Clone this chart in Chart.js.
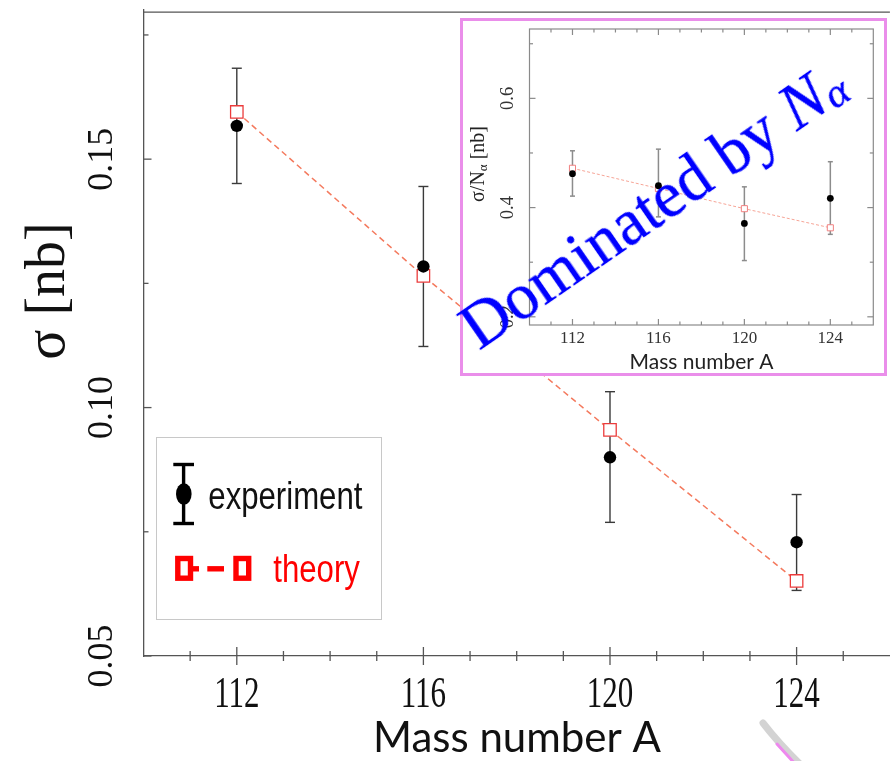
<!DOCTYPE html>
<html>
<head>
<meta charset="utf-8">
<script src="https://cdn.jsdelivr.net/npm/chart.js@4.4.0/dist/chart.umd.min.js"></script>
<style>
  html, body { margin: 0; padding: 0; background: #fff; }
  #wrap { position: relative; width: 890px; height: 761px; overflow: hidden; }
  #main { position: absolute; left: 0; top: 0; }
  #inset {
    position: absolute; left: 460px; top: 18px; width: 427px; height: 358px;
    box-sizing: border-box; border: 3px solid #ea8eea; background: #fff;
  }
  #insetChart { position: absolute; left: 0; top: 0; }
  #stamp {
    position: absolute; left: 479px; top: 297px;
    font-family: "Liberation Serif", "Times New Roman", serif;
    font-size: 65px; line-height: 1; color: #0000ff; white-space: nowrap;
    transform-origin: 0 54px; transform: rotate(-34.6deg);
    text-shadow: 0 0 0.8px #0000ff;
  }
  #stamp sub { font-size: 0.66em; vertical-align: -0.1em; }
</style>
</head>
<body>
<div id="wrap">
  <canvas id="main" width="900" height="761"></canvas>
  <div id="inset"><canvas id="insetChart" width="421" height="352"></canvas></div>
  <div id="stamp">Dominated by <i>N</i><sub><i>α</i></sub></div>
</div>
<script>
// mass numbers of the isotopes
const A_VALUES = [112, 116, 120, 124];

// main panel: cross section sigma [nb]
const SIGMA_EXP    = [0.1567, 0.1284, 0.0900, 0.0729];
const SIGMA_EXP_HI = [0.1683, 0.1445, 0.1032, 0.0825];
const SIGMA_EXP_LO = [0.1451, 0.1123, 0.0769, 0.0632];
const SIGMA_THEORY = [0.1595, 0.1265, 0.0955, 0.0651];

// inset: sigma / N_alpha [nb]
const RATIO_EXP    = [0.462, 0.440, 0.371, 0.417];
const RATIO_EXP_HI = [0.504, 0.507, 0.438, 0.484];
const RATIO_EXP_LO = [0.421, 0.383, 0.303, 0.351];
const RATIO_THEORY = [0.472, 0.435, 0.398, 0.363];

// axis ticks
const X_TICKS = [112, 116, 120, 124];
const Y_TICKS = [0.05, 0.10, 0.15];
const Y_TICK_LABELS = ['0.05', '0.10', '0.15'];
const Y_MINOR = [0.075, 0.125, 0.175];
const INSET_Y_TICKS = [0.2, 0.4, 0.6];
const INSET_Y_TICK_LABELS = ['0.2', '0.4', '0.6'];
const INSET_Y_MINOR = [0.3, 0.5, 0.7];

const SERIF = '"Liberation Serif", "Times New Roman", serif';
const SANS = 'Lato, "Open Sans", sans-serif';

const toPoints = (xs, ys) => xs.map((x, i) => ({ x, y: ys[i] }));

function vText(ctx, text, x, y, font, color) {
  ctx.save();
  ctx.translate(x, y);
  ctx.rotate(-Math.PI / 2);
  ctx.font = font;
  ctx.fillStyle = color;
  ctx.textAlign = 'center';
  ctx.textBaseline = 'alphabetic';
  ctx.fillText(text, 0, 0);
  ctx.restore();
}

function line(ctx, x1, y1, x2, y2) {
  ctx.beginPath();
  ctx.moveTo(x1, y1);
  ctx.lineTo(x2, y2);
  ctx.stroke();
}

function errorBars(chart, lo, hi, color, width, cap) {
  const { ctx, scales: { x, y } } = chart;
  ctx.save();
  ctx.strokeStyle = color;
  ctx.lineWidth = width;
  A_VALUES.forEach((a, i) => {
    const px = x.getPixelForValue(a);
    const top = y.getPixelForValue(hi[i]);
    const bot = y.getPixelForValue(lo[i]);
    line(ctx, px, top, px, bot);
    line(ctx, px - cap, top, px + cap, top);
    line(ctx, px - cap, bot, px + cap, bot);
  });
  ctx.restore();
}

const mainDecor = {
  id: 'mainDecor',
  beforeDatasetsDraw(chart) {
    errorBars(chart, SIGMA_EXP_LO, SIGMA_EXP_HI, '#3a3a3a', 1.4, 5);
  },
  afterDraw(chart) {
    const { ctx, chartArea: area, scales: { x, y } } = chart;
    ctx.save();
    ctx.strokeStyle = '#555';
    ctx.lineWidth = 1.3;
    line(ctx, area.left, area.top + 2, area.right, area.top + 2);

    // x ticks cross the bottom axis
    for (let v = 111; v <= 125; v++) {
      const px = x.getPixelForValue(v);
      const major = X_TICKS.includes(v);
      line(ctx, px, area.bottom - (major ? 9 : 5), px, area.bottom + (major ? 9 : 5));
    }
    Y_TICKS.forEach(v => {
      const py = y.getPixelForValue(v);
      line(ctx, area.left, py, area.left + 8, py);
    });
    Y_MINOR.forEach(v => {
      const py = y.getPixelForValue(v);
      line(ctx, area.left, py, area.left + 5, py);
    });

    // tick labels
    ctx.fillStyle = '#111';
    ctx.font = '31px ' + SERIF;
    ctx.textAlign = 'center';
    X_TICKS.forEach(v => {
      ctx.save();
      ctx.translate(x.getPixelForValue(v), 707);
      ctx.scale(1, 1.4);
      ctx.fillText(String(v), 0, 0);
      ctx.restore();
    });
    Y_TICKS.forEach((v, i) => vText(ctx, Y_TICK_LABELS[i], 112, y.getPixelForValue(v), '36px ' + SERIF, '#111'));

    // axis titles
    vText(ctx, 'σ [nb]', 64, 291, '56px ' + SERIF, '#111');
    ctx.font = '42px ' + SANS;
    ctx.fillStyle = '#111';
    ctx.textAlign = 'center';
    ctx.fillText('Mass number A', 517, 752);

    // legend box
    ctx.fillStyle = '#fff';
    ctx.fillRect(156.5, 437.5, 225, 182);
    ctx.strokeStyle = '#c8c8c8';
    ctx.lineWidth = 1;
    ctx.strokeRect(156.5, 437.5, 225, 182);

    ctx.strokeStyle = '#000';
    ctx.lineWidth = 3.4;
    line(ctx, 183.6, 464, 183.6, 524);
    line(ctx, 173.3, 464.5, 194, 464.5);
    line(ctx, 173.3, 523.5, 194, 523.5);
    ctx.fillStyle = '#000';
    ctx.beginPath();
    ctx.ellipse(183.8, 494, 7.8, 10.8, 0, 0, Math.PI * 2);
    ctx.fill();

    ctx.strokeStyle = '#ff0000';
    ctx.lineWidth = 5.4;
    ctx.strokeRect(177.8, 558.5, 12.7, 19.7);
    ctx.strokeRect(236, 558.5, 12.7, 19.7);
    line(ctx, 193, 568.8, 199, 568.8);
    line(ctx, 207.3, 568.8, 224, 568.8);

    ctx.font = '38px "Liberation Sans", Arial, sans-serif';
    ctx.textAlign = 'left';
    ctx.save();
    ctx.translate(208.3, 509);
    ctx.scale(0.82, 1);
    ctx.fillStyle = '#111';
    ctx.fillText('experiment', 0, 0);
    ctx.restore();
    ctx.save();
    ctx.translate(273.3, 581.5);
    ctx.scale(0.82, 1);
    ctx.fillStyle = '#ff0000';
    ctx.fillText('theory', 0, 0);
    ctx.restore();

    // tip of the callout arrow at the lower right
    ctx.lineCap = 'round';
    ctx.strokeStyle = 'rgba(200,200,200,0.8)';
    ctx.lineWidth = 7;
    ctx.beginPath();
    ctx.moveTo(763, 723);
    ctx.quadraticCurveTo(780, 745, 802, 766);
    ctx.stroke();
    ctx.strokeStyle = '#ee88ee';
    ctx.lineWidth = 3;
    ctx.beginPath();
    ctx.moveTo(777, 744);
    ctx.quadraticCurveTo(787, 755, 797, 766);
    ctx.stroke();
    ctx.restore();
  }
};

new Chart(document.getElementById('main'), {
  type: 'line',
  data: {
    datasets: [
      {
        label: 'experiment',
        data: toPoints(A_VALUES, SIGMA_EXP),
        showLine: false,
        pointRadius: 6.2,
        pointBackgroundColor: '#000',
        pointBorderWidth: 0,
        order: 0
      },
      {
        label: 'theory',
        data: toPoints(A_VALUES, SIGMA_THEORY),
        borderColor: '#f47a5e',
        borderWidth: 1.5,
        borderDash: [6, 4],
        tension: 0,
        pointStyle: 'rect',
        pointRadius: 8.8,
        pointBorderColor: '#eb3b3b',
        pointBackgroundColor: '#fff',
        pointBorderWidth: 1.3,
        order: 1
      }
    ]
  },
  options: {
    responsive: false,
    animation: false,
    events: [],
    layout: { padding: { left: 143.5, top: 6, right: 4.3, bottom: 105 } },
    plugins: { legend: { display: false }, tooltip: { enabled: false } },
    scales: {
      x: {
        type: 'linear', min: 110, max: 126,
        ticks: { display: false },
        grid: { display: false, drawTicks: false },
        border: { display: true, color: '#555', width: 1.3 }
      },
      y: {
        type: 'linear', min: 0.05, max: 0.18,
        ticks: { display: false },
        grid: { display: false, drawTicks: false },
        border: { display: true, color: '#555', width: 1.3 }
      }
    }
  },
  plugins: [mainDecor]
});

const insetDecor = {
  id: 'insetDecor',
  beforeDatasetsDraw(chart) {
    errorBars(chart, RATIO_EXP_LO, RATIO_EXP_HI, '#8c8c8c', 1.5, 2.5);
  },
  afterDraw(chart) {
    const { ctx, chartArea: area, scales: { x, y } } = chart;
    ctx.save();
    ctx.strokeStyle = '#8a8a8a';
    ctx.lineWidth = 1.2;
    ctx.strokeRect(area.left, area.top, area.right - area.left, area.bottom - area.top);

    for (let v = 111; v <= 125; v++) {
      const px = x.getPixelForValue(v);
      const len = X_TICKS.includes(v) ? 6 : 3.5;
      line(ctx, px, area.bottom, px, area.bottom - len);
      line(ctx, px, area.top, px, area.top + len);
    }
    INSET_Y_TICKS.concat(INSET_Y_MINOR).forEach(v => {
      const py = y.getPixelForValue(v);
      const len = INSET_Y_TICKS.includes(v) ? 6 : 3.5;
      line(ctx, area.left, py, area.left + len, py);
      line(ctx, area.right, py, area.right - len, py);
    });

    ctx.fillStyle = '#333';
    ctx.font = '17px ' + SERIF;
    ctx.textAlign = 'center';
    X_TICKS.forEach(v => ctx.fillText(String(v), x.getPixelForValue(v), 321.5));
    INSET_Y_TICKS.forEach((v, i) =>
      vText(ctx, INSET_Y_TICK_LABELS[i], 50.3, y.getPixelForValue(v), '18.5px ' + SERIF, '#333'));

    // rotated title with the alpha subscript
    ctx.save();
    ctx.translate(21, 143);
    ctx.rotate(-Math.PI / 2);
    ctx.fillStyle = '#222';
    const big = '20px ' + SERIF, small = '13px ' + SERIF;
    ctx.font = big;
    const w1 = ctx.measureText('σ/N').width;
    const w3 = ctx.measureText(' [nb]').width;
    ctx.font = small;
    const w2 = ctx.measureText('α').width;
    let cx = -(w1 + w2 + w3) / 2;
    ctx.textAlign = 'left';
    ctx.font = big;
    ctx.fillText('σ/N', cx, 0);
    cx += w1;
    ctx.font = small;
    ctx.fillText('α', cx, 3);
    cx += w2;
    ctx.font = big;
    ctx.fillText(' [nb]', cx, 0);
    ctx.restore();

    ctx.font = '21px ' + SANS;
    ctx.fillStyle = '#222';
    ctx.textAlign = 'center';
    ctx.fillText('Mass number A', 238.5, 348);
    ctx.restore();
  }
};

new Chart(document.getElementById('insetChart'), {
  type: 'line',
  data: {
    datasets: [
      {
        label: 'experiment',
        data: toPoints(A_VALUES, RATIO_EXP),
        showLine: false,
        pointRadius: 3.4,
        pointBackgroundColor: '#000',
        pointBorderWidth: 0,
        order: 0
      },
      {
        label: 'theory',
        data: toPoints(A_VALUES, RATIO_THEORY),
        borderColor: '#f6a496',
        borderWidth: 1,
        borderDash: [3, 2],
        tension: 0,
        pointStyle: 'rect',
        pointRadius: 4.3,
        pointBorderColor: '#f08080',
        pointBackgroundColor: '#fff',
        pointBorderWidth: 1,
        order: 1
      }
    ]
  },
  options: {
    responsive: false,
    animation: false,
    events: [],
    layout: { padding: { left: 66.5, top: 8, right: 10.7, bottom: 48 } },
    plugins: { legend: { display: false }, tooltip: { enabled: false } },
    scales: {
      x: {
        type: 'linear', min: 110, max: 126,
        ticks: { display: false },
        grid: { display: false, drawTicks: false },
        border: { display: false }
      },
      y: {
        type: 'linear', min: 0.185, max: 0.727,
        ticks: { display: false },
        grid: { display: false, drawTicks: false },
        border: { display: false }
      }
    }
  },
  plugins: [insetDecor]
});
</script>
</body>
</html>
